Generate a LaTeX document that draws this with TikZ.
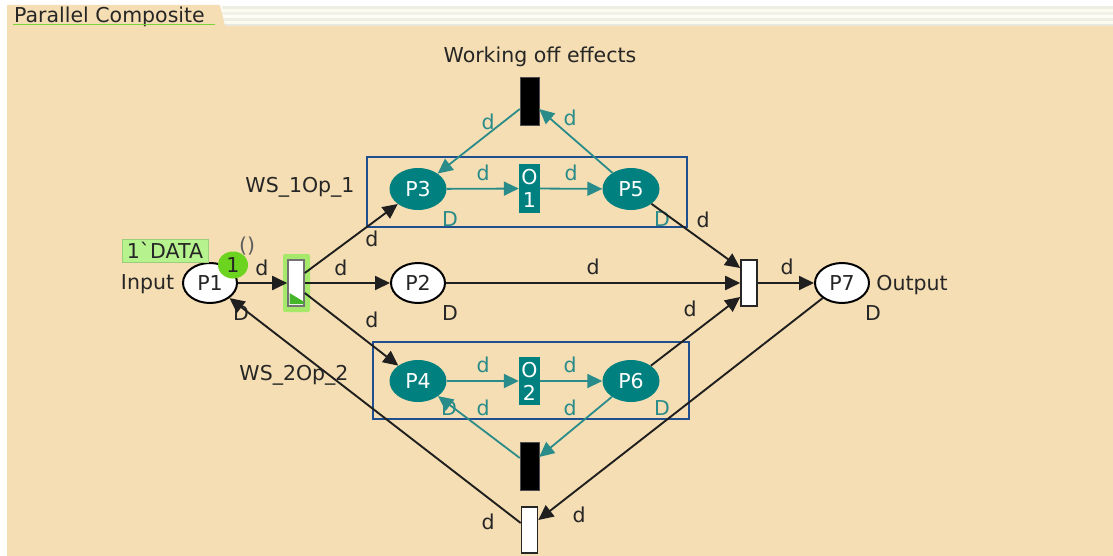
\documentclass[tikz,border=0pt]{standalone}
\usepackage{fontspec}
\setmainfont{DejaVu Sans}
\newfontfamily\nolig{DejaVu Sans}[Ligatures=TeXOff]
\usetikzlibrary{shapes.geometric,arrows.meta,calc}
\definecolor{bg}{HTML}{F5DEB3}
\definecolor{tealc}{HTML}{00807F}
\definecolor{tealline}{HTML}{2A8C8A}
\definecolor{boxblue}{HTML}{1F4F8F}
\definecolor{txt}{HTML}{262626}
\definecolor{tokgreen}{HTML}{6CD31F}
\definecolor{lblgreen}{HTML}{B6F28E}
\definecolor{glow}{HTML}{A6E86A}
\definecolor{trigreen}{HTML}{45B52A}
\definecolor{tabline}{HTML}{7AD53A}
\definecolor{sA}{HTML}{EEEEE4}
\definecolor{sB}{HTML}{FBFBF0}
\definecolor{sC}{HTML}{F2F2E8}
\definecolor{sD}{HTML}{FDFDF6}
\definecolor{sE}{HTML}{E8E8DE}
\tikzset{
 every node/.style={font=\fontsize{20.5}{23}\selectfont, text=txt},
 place/.style={ellipse, draw=black, line width=2pt, fill=white, minimum width=54pt, minimum height=40pt, inner sep=0},
 tplace/.style={ellipse, fill=tealc, text=white, minimum width=57pt, minimum height=42pt, inner sep=0},
 trans/.style={rectangle, draw=black!85, line width=1.6pt, fill=white, minimum width=16pt, minimum height=46pt, inner sep=0},
 btrans/.style={rectangle, draw=black!70, fill=black, minimum width=19pt, minimum height=48pt, inner sep=0},
 otrans/.style={rectangle, fill=tealc, text=white, minimum width=21pt, minimum height=48pt, inner sep=0, align=center},
 lbl/.style={inner sep=0},
 tlbl/.style={inner sep=0, text=tealline},
 arc/.style={draw=black!88, line width=1.9pt, -{Triangle[length=15pt,width=14pt]}},
 tarc/.style={draw=tealline, line width=1.8pt, -{Triangle[length=15pt,width=14pt]}, color=tealline},
 wsbox/.style={draw=boxblue, line width=1.2pt},
}
\begin{document}
\begin{tikzpicture}[x=1pt,y=-1pt]
\useasboundingbox (0,0) rectangle (1113,556);
% background
\fill[white] (0,0) rectangle (1113,556);
\fill[bg] (7,26) rectangle (1113,556);
\fill[sA] (222,6) rectangle (1113,9);
\fill[sB] (222,9) rectangle (1113,12);
\fill[sC] (222,12) rectangle (1113,15);
\fill[sD] (222,15) rectangle (1113,18);
\fill[sA] (222,18) rectangle (1113,21);
\fill[sB] (222,21) rectangle (1113,24);
\fill[sE] (222,24) rectangle (1113,26);
\fill[bg] (7,5) -- (220,5) -- (225,26) -- (7,26) -- cycle;
\node[lbl, anchor=base west] (tab) at (14,23) {Parallel Composite};
\draw[tabline, line width=1pt] (13,25) -- (215,25);

% boxes
\draw[wsbox] (367,157) rectangle (687,227);
\draw[wsbox] (373,342) rectangle (689,419);
\node[lbl] (ws1) at (300,187) {WS\_1Op\_1};
\node[lbl] (ws2) at (294,375) {WS\_2Op\_2};

% glow of enabled transition
\fill[glow, rounded corners=2pt] (283,254) rectangle (310,312);

% labels partly hidden
\node[lbl, text=txt!75] (unit) at (247,246) {()};
\node[lbl] (DP1) at (241,313) {D};
\node[tlbl] (DP4) at (449,408) {D};

% nodes
\node[place] (P1) at (210,283) {P1};
\node[trans, draw=black!55] (T1) at (296,283) {};
\fill[trigreen] (289.5,293) -- (289.5,304) -- (303.5,304) -- (303.5,301.5) -- cycle;
\node[place] (P2) at (418,283) {P2};
\node[tplace] (P3) at (418,189) {P3};
\node[otrans] (O1) at (529.5,188.5) {O\\1};
\node[tplace] (P5) at (631,189) {P5};
\node[tplace] (P4) at (418,381) {P4};
\node[otrans] (O2) at (529.5,381) {O\\2};
\node[tplace] (P6) at (631,381) {P6};
\node[btrans] (BT) at (529.5,101) {};
\node[btrans] (BB) at (529.5,466) {};
\node[trans] (WB) at (529.5,530) {};
\node[trans] (Tout) at (749,283) {};
\node[place] (P7) at (842,283) {P7};

% token and marking
\node[rectangle, fill=lblgreen, draw=lblgreen!85!black, line width=0.4pt, minimum width=86pt, minimum height=23pt, inner sep=0] (mark) at (165,250.5) {{\nolig 1`DATA}};
\node[ellipse, fill=tokgreen, minimum width=30pt, minimum height=27pt, inner sep=0] (tok) at (233,265) {1};

% text labels
\node[lbl] (inp) at (147.5,284) {Input};
\node[lbl] (outp) at (912,285) {Output};
\node[lbl] (wo) at (540,57) {Working off effects};
\node[lbl] (DP2) at (450,313) {D};
\node[lbl] (DP7) at (873,313) {D};
\node[tlbl] (DP3) at (450,219) {D};
\node[tlbl] (DP5) at (662,219) {D};
\node[tlbl] (DP6) at (662,408) {D};

% coordinates
\coordinate (BTa) at ($(BT.west)+(0,8)$);
\coordinate (BTb) at ($(BT.east)+(0,8)$);
\coordinate (BBa) at ($(BB.west)+(0,-8)$);
\coordinate (BBb) at ($(BB.east)+(0,-9)$);
\coordinate (WBa) at ($(WB.west)+(0,-7)$);
\coordinate (WBb) at ($(WB.east)+(0,-10)$);
\coordinate (Touta) at ($(Tout.west)+(0,-15)$);
\coordinate (Toutb) at ($(Tout.west)+(0,14)$);
\coordinate (T1a) at ($(T1.east)+(0,-10)$);
\coordinate (T1b) at ($(T1.east)+(0,10)$);

% black arcs
\draw[arc] (P1) -- (T1);
\draw[arc] (T1) -- (P2);
\draw[arc] (T1a) -- (P3);
\draw[arc] (T1b) -- (P4);
\draw[arc] (P2) -- (Tout);
\draw[arc] (P5) -- (Touta);
\draw[arc] (P6) -- (Toutb);
\draw[arc] (Tout) -- (P7);
\draw[arc] (P7) -- (WBb);
\draw[arc] (WBa) -- (P1);

% teal arcs
\draw[tarc] (BTa) -- (P3);
\draw[tarc] (P5) -- (BTb);
\draw[tarc] (P3) -- (O1);
\draw[tarc] (O1) -- (P5);
\draw[tarc] (P4) -- (O2);
\draw[tarc] (O2) -- (P6);
\draw[tarc] (BBa) -- (P4);
\draw[tarc] (P6) -- (BBb);

% arc inscriptions
\node[lbl] (d1) at (262,268) {d};
\node[lbl] (d2) at (341,268) {d};
\node[lbl] (d3) at (372,239) {d};
\node[lbl] (d4) at (372,320) {d};
\node[lbl] (d5) at (593,267) {d};
\node[lbl] (d6) at (703,220) {d};
\node[lbl] (d7) at (690,309) {d};
\node[lbl] (d8) at (787,267) {d};
\node[lbl] (d9) at (488,522) {d};
\node[lbl] (d10) at (579,515) {d};
\node[tlbl] (t1) at (488,122) {d};
\node[tlbl] (t2) at (570,118) {d};
\node[tlbl] (t3) at (483,173) {d};
\node[tlbl] (t4) at (571,173) {d};
\node[tlbl] (t5) at (483,365) {d};
\node[tlbl] (t6) at (570,365) {d};
\node[tlbl] (t7) at (483,408) {d};
\node[tlbl] (t8) at (570,408) {d};
\end{tikzpicture}
\end{document}
